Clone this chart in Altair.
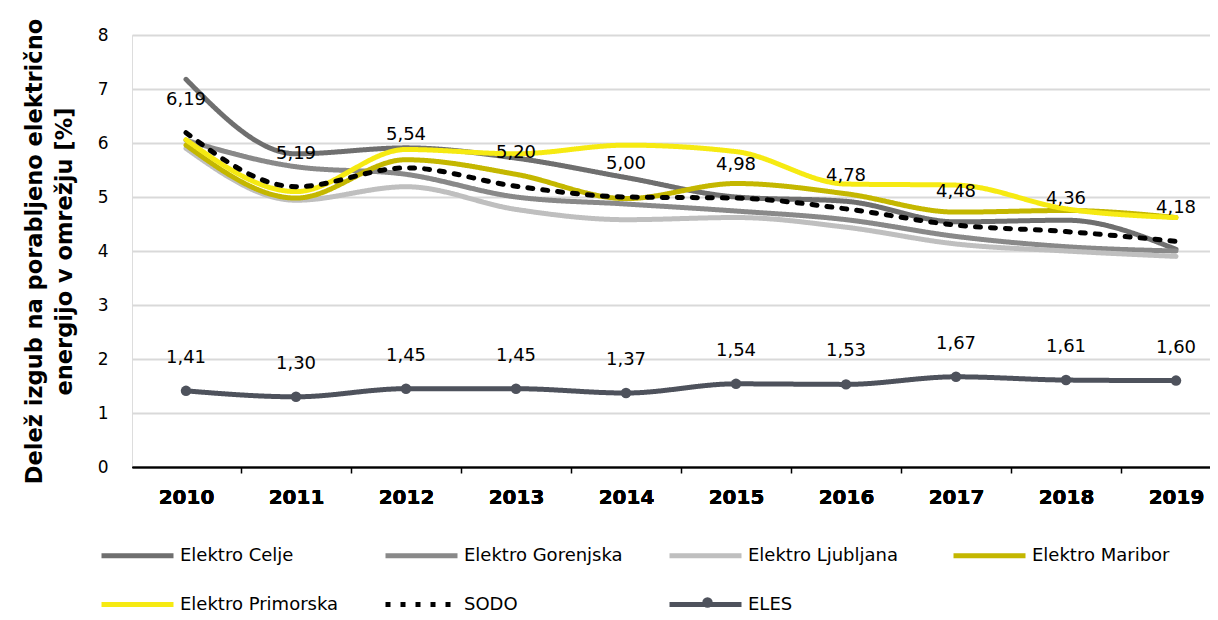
import altair as alt
import pandas as pd

years = [2010, 2011, 2012, 2013, 2014, 2015, 2016, 2017, 2018, 2019]
boundaries = [2009.5, 2010.5, 2011.5, 2012.5, 2013.5, 2014.5, 2015.5, 2016.5, 2017.5, 2018.5]

series_names = ["Elektro Celje", "Elektro Gorenjska", "Elektro Ljubljana",
                "Elektro Maribor", "Elektro Primorska", "SODO", "ELES"]
series_colors = ["#6f6f6f", "#898989", "#bfbfbf", "#c4b700", "#f6ea12", "#000000", "#4e525c"]

celje = [7.18, 5.80, 5.91, 5.72, 5.36, 5.00, 4.92, 4.54, 4.57, 4.03]
gorenjska = [6.05, 5.56, 5.42, 5.00, 4.87, 4.74, 4.58, 4.27, 4.08, 4.00]
ljubljana = [5.90, 4.94, 5.19, 4.77, 4.58, 4.62, 4.44, 4.13, 4.00, 3.90]
maribor = [5.96, 4.98, 5.69, 5.42, 4.97, 5.25, 5.06, 4.72, 4.75, 4.62]
primorska = [6.06, 5.10, 5.88, 5.80, 5.96, 5.84, 5.24, 5.22, 4.78, 4.62]
sodo = [6.19, 5.19, 5.54, 5.20, 5.00, 4.98, 4.78, 4.48, 4.36, 4.18]
eles = [1.41, 1.30, 1.45, 1.45, 1.37, 1.54, 1.53, 1.67, 1.61, 1.60]

values = [celje, gorenjska, ljubljana, maribor, primorska, sodo, eles]

rows = []
for name, vals in zip(series_names, values):
    for yr, v in zip(years, vals):
        rows.append({"series": name, "year": yr, "value": v,
                     "label": f"{v:.2f}".replace(".", ","),
                     "marker": "ELES marker"})
df = pd.DataFrame(rows)

FONT = "DejaVu Sans"
xscale = alt.Scale(domain=[2009.509, 2019.309], nice=False, zero=False)
yscale = alt.Scale(domain=[0, 8], nice=False)

x_lab = alt.X("year:Q", scale=xscale,
              axis=alt.Axis(orient="bottom", values=years, format="d", title=None, grid=False,
                            domain=True, domainColor="#000000", domainWidth=1.5,
                            ticks=False, labelFontSize=20, labelFontWeight="bold",
                            labelColor="#000000", labelPadding=20, labelFont=FONT))
x_tick = alt.X("year:Q", scale=xscale,
               axis=alt.Axis(orient="bottom", values=boundaries, title=None, grid=False,
                             labels=False, domain=False, ticks=True, tickSize=6,
                             tickWidth=1.5, tickColor="#000000"))

y_enc = alt.Y("value:Q", scale=yscale,
              axis=alt.Axis(values=list(range(0, 9)), title=["Delež izgub na porabljeno električno",
                                                               "energijo v omrežju [%]"],
                            titleFontSize=22.5, titleFontWeight="bold", titleColor="#000000",
                            titleFont=FONT, titlePadding=21, titleLineHeight=30,
                            labelFontSize=17, labelColor="#000000", labelPadding=24,
                            labelFont=FONT, domain=False, ticks=False,
                            gridColor="#d9d9d9", gridWidth=2))

legend_kw = dict(title=None, orient="none", legendX=-33, legendY=482, direction="horizontal",
                 columns=4, symbolType="stroke", symbolSize=5184, symbolStrokeWidth=5,
                 labelFontSize=18, labelFont=FONT, labelColor="#000000",
                 columnPadding=36, rowPadding=0, gridAlign="all", labelOffset=4)

color_enc = alt.Color("series:N", scale=alt.Scale(domain=series_names, range=series_colors),
                      legend=alt.Legend(**legend_kw))
dash_enc = alt.StrokeDash("series:N",
                          scale=alt.Scale(domain=series_names,
                                          range=[[1, 0], [1, 0], [1, 0], [1, 0], [1, 0], [5, 10], [1, 0]]),
                          legend=alt.Legend(**legend_kw))

base = alt.Chart(df)

dso = base.transform_filter(alt.datum.series != "SODO").mark_line(
    strokeWidth=5, interpolate="monotone", strokeCap="round").encode(
    x=x_lab, y=y_enc, color=color_enc, strokeDash=dash_enc)

sodo_line = base.transform_filter(alt.datum.series == "SODO").mark_line(
    strokeWidth=5, interpolate="monotone", strokeCap="round").encode(
    x=x_lab, y=y_enc, color=color_enc, strokeDash=dash_enc)

eles_pts = base.transform_filter(alt.datum.series == "ELES").mark_point(
    size=110, opacity=1, filled=True, color="#4e525c").encode(
    x=x_lab, y=y_enc,
    shape=alt.Shape("marker:N", scale=alt.Scale(domain=["ELES marker"], range=["circle"]),
                    legend=alt.Legend(title=None, orient="none", legendX=570, legendY=562,
                                      labelExpr="''", symbolSize=110, symbolFillColor="#4e525c",
                                      symbolStrokeWidth=0, symbolOpacity=1)))

labels = base.transform_filter(
    (alt.datum.series == "SODO") | (alt.datum.series == "ELES")).mark_text(
    dy=-33, fontSize=18, font=FONT, color="#000000").encode(x=x_lab, y=y_enc, text="label:N")

axis_ticks = base.transform_filter(alt.datum.series == "ELES").mark_point(opacity=0).encode(
    x=x_tick, y=y_enc)

chart = alt.layer(dso, sodo_line, eles_pts, labels, axis_ticks).resolve_axis(
    x="independent").properties(
    width=1078, height=432,
    autosize=alt.AutoSizeParams(type="none"),
    padding={"left": 124, "top": 27, "right": 0, "bottom": 145},
).configure_view(stroke=None).configure(background="#ffffff")

chart.save("out.html", embed_options={"renderer": "svg", "actions": False})
